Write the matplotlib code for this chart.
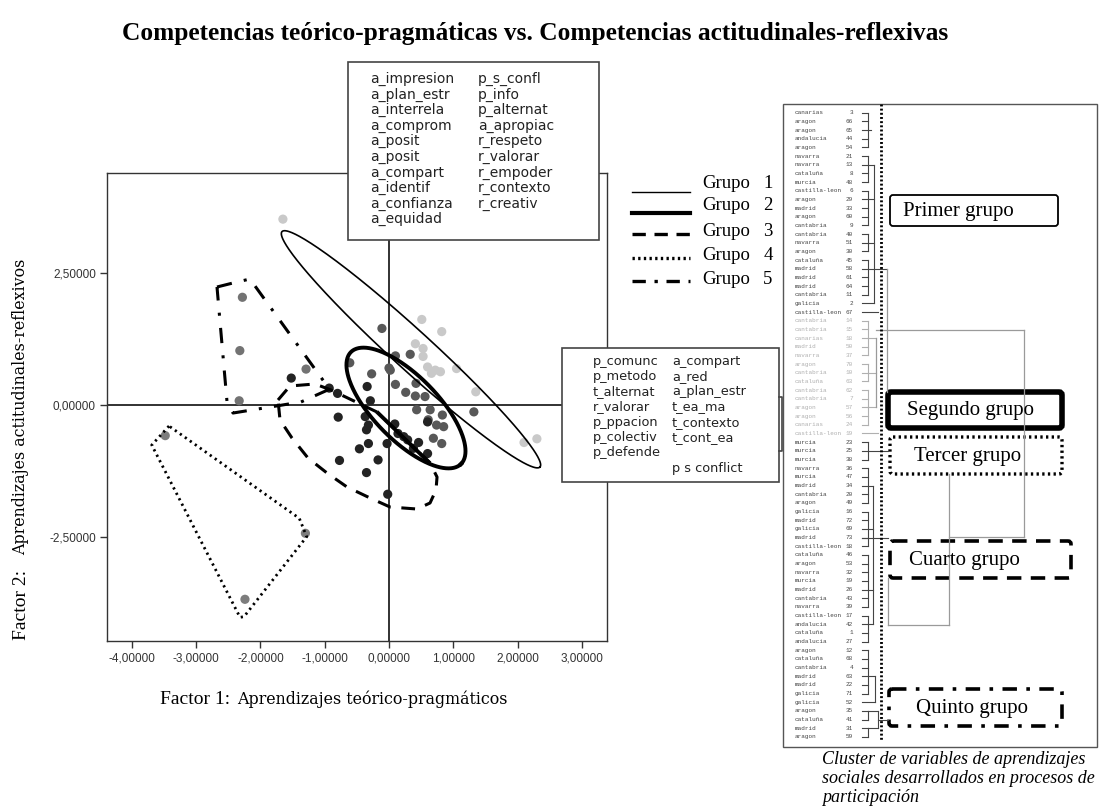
import numpy as np
import matplotlib
matplotlib.use("Agg")
import matplotlib.pyplot as plt
from matplotlib.patches import Rectangle, FancyBboxPatch

# ---------------- data ----------------
g1_x = [-1.65, 0.51, 0.82, 0.41, 0.53, 0.53, 0.72, 0.80, 0.66, 1.05, 1.35, 2.10, 2.30, 0.60]
g1_y = [3.52, 1.62, 1.39, 1.16, 1.07, 0.92, 0.66, 0.63, 0.60, 0.69, 0.25, -0.71, -0.64, 0.72]
g2_x = [-0.11, 0.33, 0.10, 0.02, -0.27, -0.61, 0.10, 0.26, 0.41, 0.56, 0.43, 0.64, 0.83,
        0.74, 0.85, 0.69, 0.82, 1.32, 0.42, 0.00, 0.61]
g2_y = [1.45, 0.96, 0.93, 0.66, 0.59, 0.80, 0.39, 0.24, 0.17, 0.16, -0.09, -0.09, -0.19,
        -0.38, -0.41, -0.63, -0.73, -0.13, 0.41, 0.70, -0.28]
g3_x = [-1.52, -0.93, -0.80, -0.34, -0.29, -0.79, -0.37, -0.32, 0.09, 0.14, 0.23, 0.46, 0.60,
        0.38, 0.60, -0.32, -0.46, -0.03, -0.77, -0.17, -0.35, -0.02, -0.35, 0.29]
g3_y = [0.51, 0.32, 0.22, 0.35, 0.08, -0.23, -0.22, -0.38, -0.36, -0.54, -0.60, -0.71, -0.32,
        -0.82, -0.92, -0.73, -0.83, -0.73, -1.05, -1.04, -1.28, -1.69, -0.47, -0.66]
g4_x = [-3.48, -1.30, -2.24]
g4_y = [-0.58, -2.43, -3.68]
g5_x = [-2.28, -2.32, -2.33, -1.29]
g5_y = [2.04, 1.03, 0.08, 0.68]

# group outlines
ell1_c = (0.342, 1.055); ell1_u = (2.006, -2.229); ell1_v = (0.205, 0.275)
ell2_c = (0.264, -0.057); ell2_u = (0.855, -1.061); ell2_v = (0.355, 0.426)
hull3_x = [-1.726, -1.540, -1.151, -0.902, -0.187, 0.638, 0.747, 0.731, 0.638, 0.435, 0.016,
           -0.295, -0.653, -0.964, -1.260, -1.509, -1.695, -1.726]
hull3_y = [0.095, 0.360, 0.398, 0.284, -0.133, -1.098, -1.364, -1.610, -1.856, -1.970, -1.932,
           -1.761, -1.553, -1.288, -1.004, -0.625, -0.284, 0.095]
hull4_x = [-3.421, -3.690, -2.317, -2.255, -1.280, -1.395, -3.421]
hull4_y = [-0.398, -0.758, -4.021, -4.009, -2.494, -2.146, -0.398]
hull5_x = [-2.675, -2.364, -2.162, -0.995, -0.918, -1.369, -2.426, -2.519, -2.675]
hull5_y = [2.235, 2.330, 2.386, 0.417, 0.303, 0.057, -0.152, 0.057, 2.235]
seg_x = [-0.191, 0.638]
seg_y = [-0.127, -1.104]

x_ticks = [-4, -3, -2, -1, 0, 1, 2, 3]
y_ticks = [-2.5, 0.0, 2.5]

box1_col1 = ["a_impresion", "a_plan_estr", "a_interrela", "a_comprom", "a_posit", "a_posit",
             "a_compart", "a_identif", "a_confianza", "a_equidad"]
box1_col2 = ["p_s_confl", "p_info", "p_alternat", "a_apropiac", "r_respeto", "r_valorar",
             "r_empoder", "r_contexto", "r_creativ"]
box2_col1 = ["p_comunc", "p_metodo", "t_alternat", "r_valorar", "p_ppacion", "p_colectiv", "p_defende"]
box2_col2 = ["a_compart", "a_red", "a_plan_estr", "t_ea_ma", "t_contexto", "t_cont_ea", "", "p s conflict"]

legend_labels = ["Grupo", "Grupo", "Grupo", "Grupo", "Grupo"]
legend_nums = ["1", "2", "3", "4", "5"]

den_names = ["canarias", "aragon", "aragon", "andalucia", "aragon", "navarra", "navarra", "cataluña",
             "murcia", "castilla-leon", "aragon", "madrid", "aragon", "cantabria", "cantabria", "navarra",
             "aragon", "cataluña", "madrid", "madrid", "madrid", "cantabria", "galicia", "castilla-leon",
             "cantabria", "cantabria", "canarias", "madrid", "navarra", "aragon", "cantabria", "cataluña",
             "cantabria", "cantabria", "aragon", "aragon", "canarias", "castilla-leon", "murcia", "murcia",
             "murcia", "navarra", "murcia", "madrid", "cantabria", "aragon", "galicia", "madrid", "galicia",
             "madrid", "castilla-leon", "cataluña", "aragon", "navarra", "murcia", "madrid", "cantabria",
             "navarra", "castilla-leon", "andalucia", "cataluña", "andalucia", "aragon", "cataluña",
             "cantabria", "madrid", "madrid", "galicia", "galicia", "aragon", "cataluña", "madrid", "aragon"]
den_nums = [3, 66, 65, 44, 54, 21, 13, 8, 48, 6, 29, 33, 60, 9, 40, 51, 30, 45, 58, 61,
            64, 11, 2, 67, 14, 15, 18, 50, 37, 70, 10, 63, 62, 7, 57, 56, 24, 19, 23, 25,
            38, 36, 47, 34, 20, 49, 16, 72, 69, 73, 18, 46, 53, 32, 19, 26, 43, 39, 17, 42,
            1, 27, 12, 68, 4, 63, 22, 71, 52, 35, 41, 31, 59]
den_gray_rows = list(range(24, 38))  # 0-based rows drawn in light gray

group_boxes = ["Primer grupo", "Segundo grupo", "Tercer grupo", "Cuarto grupo", "Quinto grupo"]

# ---------------- figure ----------------
W, H = 1101, 807
fig = plt.figure(figsize=(W / 100, H / 100), dpi=100)
fig.patch.set_facecolor("white")


def fx(px):
    return px / W


def fy(py):
    return 1 - py / H


ax = fig.add_axes([fx(107), fy(641), fx(607) - fx(107), fy(173) - fy(641)])
ax.set_xlim((107 - 389) / 64.3, (607 - 389) / 64.3)
ax.set_ylim((405 - 641) / 52.8, (405 - 173) / 52.8)
for sp in ax.spines.values():
    sp.set_linewidth(1.0)
    sp.set_color("#333333")
ax.set_xticks(x_ticks)
ax.set_xticklabels([f"{v:.5f}".replace(".", ",") for v in x_ticks], fontsize=8.5,
                   family="Liberation Sans", color="#222222")
ax.set_yticks(y_ticks)
ax.set_yticklabels([f"{v:.5f}".replace(".", ",") for v in y_ticks], fontsize=8.5,
                   family="Liberation Sans", color="#222222")
ax.tick_params(direction="out", length=5, width=1, pad=3, colors="#333333")

ax.axhline(0, color="#222222", lw=1.3, zorder=1)
ax.axvline(0, color="#222222", lw=1.3, zorder=1)

ax.scatter(g1_x, g1_y, s=44, color="#c9c9c9", edgecolors="none", zorder=3)
ax.scatter(g2_x, g2_y, s=44, color="#585858", edgecolors="none", zorder=3)
ax.scatter(g3_x, g3_y, s=44, color="#232323", edgecolors="none", zorder=3)
ax.scatter(g4_x, g4_y, s=44, color="#7d7d7d", edgecolors="none", zorder=3)
ax.scatter(g5_x, g5_y, s=44, color="#737373", edgecolors="none", zorder=3)

t = np.linspace(0, 2 * np.pi, 400)
e1x = ell1_c[0] + np.cos(t) * ell1_u[0] + np.sin(t) * ell1_v[0]
e1y = ell1_c[1] + np.cos(t) * ell1_u[1] + np.sin(t) * ell1_v[1]
ax.plot(e1x, e1y, color="black", lw=1.2, zorder=4)
e2x = ell2_c[0] + np.cos(t) * ell2_u[0] + np.sin(t) * ell2_v[0]
e2y = ell2_c[1] + np.cos(t) * ell2_u[1] + np.sin(t) * ell2_v[1]
ax.plot(e2x, e2y, color="black", lw=2.8, zorder=4)
ax.plot(hull3_x, hull3_y, color="black", lw=2.2, ls=(0, (4.5, 3.5)), zorder=4)
ax.plot(hull4_x, hull4_y, color="black", lw=2.0, ls=(0, (0.8, 1.4)), zorder=4)
ax.plot(hull5_x, hull5_y, color="black", lw=2.2, ls=(0, (5, 4, 1, 4)), zorder=4)
ax.plot(seg_x, seg_y, color="black", lw=2.8, zorder=4, solid_capstyle="butt")

# ---------------- overlay in pixel coordinates ----------------
ov = fig.add_axes([0, 0, 1, 1], zorder=5)
ov.set_xlim(0, W)
ov.set_ylim(H, 0)
ov.axis("off")
ov.patch.set_alpha(0)

serif = "Liberation Serif"
mono_small = "Liberation Mono"

ov.text(535, 40, "Competencias teórico-pragmáticas vs. Competencias actitudinales-reflexivas",
        ha="center", va="baseline", fontsize=18.3, fontweight="bold", family=serif)

# axis labels
ov.text(160, 704, "Factor 1:", ha="left", va="baseline", fontsize=14, family=serif)
ov.text(237, 704, "Aprendizajes teórico-pragmáticos", ha="left", va="baseline", fontsize=11.4,
        family="DejaVu Serif")
ov.text(26, 640, "Factor 2:", ha="left", va="baseline", rotation=90, rotation_mode="anchor",
        fontsize=14, family=serif)
ov.text(25, 555, "Aprendizajes actitudinales-reflexivos", ha="left", va="baseline", rotation=90,
        rotation_mode="anchor", fontsize=11.4, family="DejaVu Serif")

# variable boxes
ov.add_patch(Rectangle((348, 62), 251, 178, facecolor="white", edgecolor="#444444", lw=1.2))
for i, s in enumerate(box1_col1):
    ov.text(370, 79 + i * 15.6, s, ha="left", va="center", fontsize=10, family="DejaVu Sans",
            color="#222222")
for i, s in enumerate(box1_col2):
    ov.text(478, 79 + i * 15.6, s, ha="left", va="center", fontsize=10, family="DejaVu Sans",
            color="#222222")

ov.add_patch(Rectangle((562, 348), 217, 134, facecolor="white", edgecolor="#444444", lw=1.2))
for i, s in enumerate(box2_col1):
    ov.text(593, 361 + i * 15.3, s, ha="left", va="center", fontsize=9.3, family="DejaVu Sans",
            color="#222222")
for i, s in enumerate(box2_col2):
    ov.text(672, 361 + i * 15.3, s, ha="left", va="center", fontsize=9.3, family="DejaVu Sans",
            color="#222222")
ov.plot([779, 782, 782, 779], [397, 397, 451, 451], color="#444444", lw=1.2)

# line-style legend
leg_y_line = [192, 213, 234, 258, 281]
leg_y_text = [183, 205, 231, 256, 280]
leg_styles = [dict(lw=1.0, ls="-"), dict(lw=3.0, ls="-"), dict(lw=2.4, ls=(0, (4, 2.6))),
              dict(lw=2.4, ls=(0, (0.7, 1.0))), dict(lw=2.4, ls=(0, (4, 2.6, 1, 2.6)))]
for yl, yt, st, lab, num in zip(leg_y_line, leg_y_text, leg_styles, legend_labels, legend_nums):
    ov.plot([632, 690], [yl, yl], color="black", **st)
    ov.text(702, yt, lab, ha="left", va="center", fontsize=13.5, family=serif)
    ov.text(768, yt, num, ha="center", va="center", fontsize=13.5, family=serif)

# ---------------- dendrogram ----------------
ov.add_patch(Rectangle((783, 104), 314, 643, facecolor="none", edgecolor="#555555", lw=1.0))
row_y0, row_dy = 112.7, 8.67
dark, light = "#444444", "#b0b0b0"


def ry(i):
    return row_y0 + (i - 1) * row_dy


for i, (nm, nu) in enumerate(zip(den_names, den_nums)):
    col = light if i in den_gray_rows else dark
    y = row_y0 + i * row_dy
    ov.text(795, y, nm, ha="left", va="center", fontsize=4.3, family=mono_small, color=col)
    ov.text(853, y, str(nu), ha="right", va="center", fontsize=4.3, family=mono_small, color=col)

# (first row, last row, link row, x_end, colour) for small brackets, 1-based rows
brackets = [(1, 5, 3, 871, dark), (6, 9, 7, 874, dark), (10, 14, 11, 874, dark), (15, 17, 16, 874, dark),
            (18, 22, 19, 874, dark), (25, 29, 27, 876, light), (30, 32, 31, 876, light),
            (33, 37, 35, 876, light), (39, 41, 40, 888, dark), (42, 46, 44, 873, dark),
            (47, 51, 49, 873, dark), (52, 58, 56, 873, dark), (59, 62, 60, 873, dark),
            (63, 68, 66, 875, dark), (70, 71, 70, 878, dark), (72, 73, 72, 878, dark)]
for a, b, l, xe, col in brackets:
    for r in range(a, b + 1):
        ov.plot([862, 868], [ry(r), ry(r)], color=col, lw=0.8)
    ov.plot([868, 868], [ry(a), ry(b)], color=col, lw=0.8)
    ov.plot([868, xe], [ry(l), ry(l)], color=col, lw=0.8)

single_rows = [(23, 874, dark), (24, 878, dark), (38, 878, light), (50, 888, dark), (69, 875, dark)]
for r, xe, col in single_rows:
    ov.plot([862, xe], [ry(r), ry(r)], color=col, lw=0.8)

conn_dark = [([874, 874], [ry(7), ry(23)]), ([874, 887], [ry(19), ry(19)]),
             ([873, 873], [ry(44), ry(60)]), ([875, 875], [ry(66), ry(69)]),
             ([878, 878], [ry(70), ry(72)]), ([878, 888], [ry(71), ry(71)])]
for xs, ys in conn_dark:
    ov.plot(xs, ys, color=dark, lw=0.8)
conn_gray = [([876, 876], [ry(27), ry(35)]), ([876, 1024], [330, 330]), ([1024, 1024], [330, 537]),
             ([949, 1024], [537, 537]), ([949, 949], [474, 625]), ([888, 949], [625, 625]),
             ([887, 887], [ry(19), 392]), ([888, 888], [578, 625])]
for xs, ys in conn_gray:
    ov.plot(xs, ys, color="#9a9a9a", lw=0.9)

ov.plot([881, 881], [104, 740], color="black", lw=2.0, ls=(0, (0.7, 0.8)))

# group boxes
box_geo = [(890, 195, 168, 31), (888, 392, 174, 36), (890, 437, 172, 37), (890, 541, 181, 37),
           (889, 689, 173, 37)]
box_styles = [dict(lw=1.3, ls="-"), dict(lw=4.0, ls="-"), dict(lw=2.4, ls=(0, (0.7, 1.0))),
              dict(lw=2.6, ls=(0, (4, 2.6))), dict(lw=2.6, ls=(0, (4, 2.6, 1, 2.6)))]
text_x = [903, 907, 914, 909, 916]
for (bx, by, bw, bh), st, lab, tx in zip(box_geo, box_styles, group_boxes, text_x):
    ov.add_patch(FancyBboxPatch((bx, by), bw, bh, boxstyle="round,pad=0,rounding_size=3",
                                facecolor="white", edgecolor="black", **st))
    ov.text(tx, by + bh / 2 + 1, lab, ha="left", va="center", fontsize=15, family=serif)

cap = ["Cluster de variables de aprendizajes", "sociales desarrollados en procesos de", "participación"]
for i, line in enumerate(cap):
    ov.text(822, 764 + i * 19, line, ha="left", va="baseline", fontsize=13, style="italic",
            family=serif)

fig.savefig("out.png", dpi=100, facecolor="white")
